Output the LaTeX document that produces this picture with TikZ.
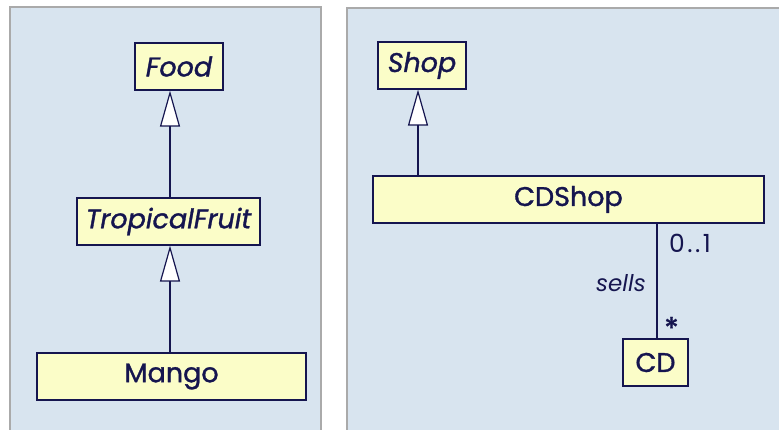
\documentclass[tikz,border=0pt]{standalone}
\usepackage{fontspec}
\setmainfont{Poppins}
\newfontfamily\umlfont{Poppins}[FakeBold=1.2]
\usetikzlibrary{arrows.meta}
\definecolor{panelbg}{HTML}{D8E4EF}
\definecolor{panelrule}{HTML}{AAAAAA}
\definecolor{classfill}{HTML}{FBFDC8}
\definecolor{ink}{HTML}{15154F}
\tikzset{
  panel/.style={fill=panelbg, draw=panelrule, line width=2pt},
  classbox/.style={draw=ink, fill=classfill, line width=1.2pt, inner sep=0pt, text=ink, font=\umlfont\fontsize{27}{29}\selectfont},
  abstract/.style={classbox, font=\umlfont\fontsize{27}{29}\selectfont\itshape},
  link/.style={draw=ink, line width=1.2pt},
  inherit/.style={link, -{Triangle[open, width=20pt, length=36pt, fill=white, line width=1.2pt]}},
  role/.style={text=ink, font=\fontsize{25}{27}\selectfont, inner sep=0pt}
}
\begin{document}
\begin{tikzpicture}[x=1pt, y=-1pt]
\useasboundingbox (0,0) rectangle (779,430);
% panels
\path[panel] (10,7) rectangle (321,440);
\path[panel] (347,8) rectangle (790,440);
% left panel: Food hierarchy
\node[abstract, minimum width=88pt, minimum height=47pt] (food) at (179,66.5) {Food};
\node[abstract, minimum width=183pt, minimum height=47pt] (fruit) at (168.5,221.5) {TropicalFruit};
\node[classbox, minimum width=269pt, minimum height=47pt] (mango) at (171.5,376.5) {Mango};
\draw[inherit] (fruit.north -| 170,0) -- (food.south -| 170,0);
\draw[inherit] (mango.north -| 170,0) -- (fruit.south -| 170,0);
% right panel: shops
\node[abstract, minimum width=88pt, minimum height=47pt] (shop) at (422,65.5) {Shop};
\node[classbox, minimum width=391pt, minimum height=47pt] (cdshop) at (568.5,199.5) {CDShop};
\node[classbox, minimum width=65pt, minimum height=47pt] (cd) at (655.5,362.5) {CD};
\draw[inherit] (cdshop.north -| 418,0) -- (shop.south -| 418,0);
\draw[link] (cdshop.south -| 657,0) -- (cd.north -| 657,0);
\node[role, anchor=west] (mult1) at (669,243) {0\kern2.5pt.\kern2.5pt.\kern2.5pt1};
\node[role, anchor=east, font=\fontsize{23}{25}\selectfont\itshape] (sells) at (646,283) {sells};
\node[role, anchor=west, font=\umlfont\fontsize{30}{32}\selectfont] (mult2) at (664,328) {*};
\end{tikzpicture}
\end{document}
